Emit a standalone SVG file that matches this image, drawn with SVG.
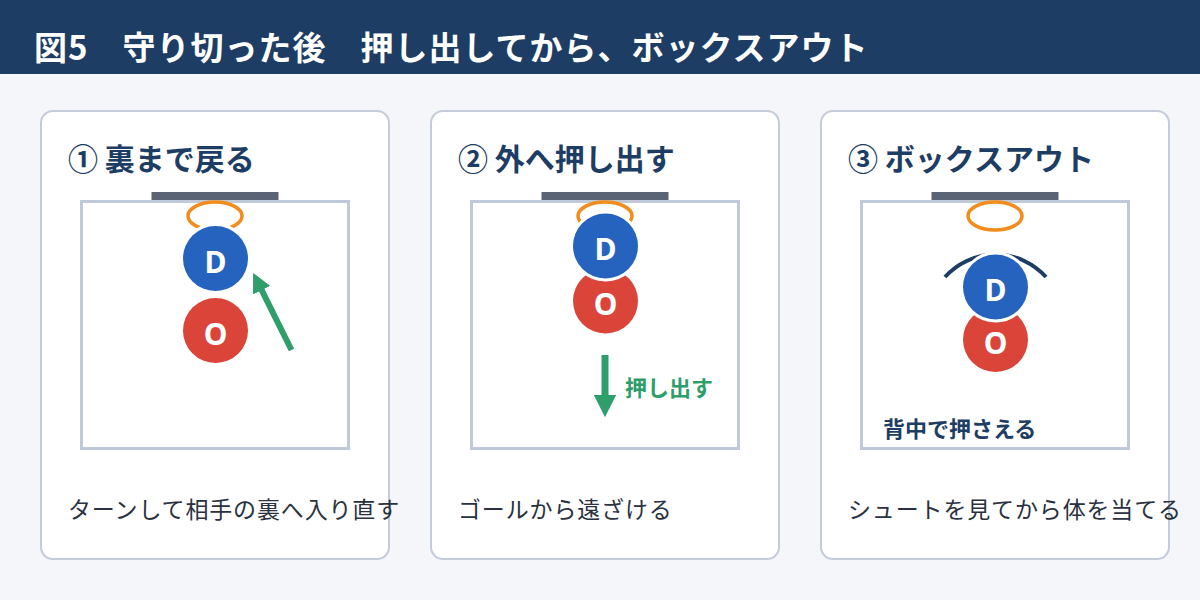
<svg xmlns="http://www.w3.org/2000/svg" width="1200" height="600" viewBox="0 0 1200 600">
<style>
.jp{font-family:"Noto Sans CJK JP","Noto Sans CJK SC",sans-serif}
.card{fill:#ffffff;stroke:#c4cbd9;stroke-width:2}
.court{fill:#ffffff;stroke:#bfc9d9;stroke-width:3}
.goal{fill:#5a6474}
.hoop{fill:none;stroke:#f28c1c;stroke-width:3.5}
.ptitle{font-size:30px;font-weight:700;fill:#1e3d64}
.cap{font-size:23px;font-weight:400;fill:#2a3140;letter-spacing:0.85px}
.dcirc{fill:#2563be;stroke:#ffffff;stroke-width:6;paint-order:stroke}
.ocirc{fill:#db4439;stroke:#ffffff;stroke-width:6;paint-order:stroke}
.lbl{font-family:"Noto Sans","Open Sans",sans-serif;font-size:30px;font-weight:700;fill:#ffffff;text-anchor:middle}
.arrow{stroke:#2e9e6b;fill:none;marker-end:url(#ah)}
</style>
<defs>
<marker id="ah" viewBox="0 0 10 10" markerWidth="3.2" markerHeight="3.2" refX="1" refY="5" orient="auto" markerUnits="strokeWidth">
<path d="M0,0 L10,5 L0,10 z" fill="#2e9e6b"/>
</marker>
</defs>
<rect x="0" y="0" width="1200" height="600" fill="#f4f6fa"/>
<g id="header">
<rect x="0" y="0" width="1200" height="74" fill="#1e3d64"/>
<text class="jp" x="34" y="60" font-size="33" font-weight="700" fill="#ffffff" letter-spacing="1">図5　守り切った後　押し出してから、ボックスアウト</text>
</g>
<g id="panel1">
<rect class="card" x="41" y="111" width="348" height="448" rx="12"/>
<text class="jp ptitle" x="68" y="170">① 裏まで戻る</text>
<rect class="goal" x="151.5" y="192" width="127" height="8"/>
<rect class="court" x="81.5" y="201.5" width="267" height="247"/>
<ellipse class="hoop" cx="215" cy="216" rx="27" ry="14"/>
<circle class="ocirc" cx="215.5" cy="330.5" r="32.5"/>
<text class="lbl" x="215.5" y="344.5">O</text>
<circle class="dcirc" cx="215.5" cy="258.5" r="32.5"/>
<text class="lbl" x="215.5" y="272.5">D</text>
<text class="jp cap" x="68" y="518">ターンして相手の裏へ入り直す</text>
</g>
<g id="panel2">
<rect class="card" x="431" y="111" width="348" height="448" rx="12"/>
<text class="jp ptitle" x="458" y="170">② 外へ押し出す</text>
<rect class="goal" x="541.5" y="192" width="127" height="8"/>
<rect class="court" x="471.5" y="201.5" width="267" height="247"/>
<ellipse class="hoop" cx="605" cy="216" rx="27" ry="14"/>
<circle class="ocirc" cx="605.5" cy="301" r="32.5"/>
<text class="lbl" x="605.5" y="315">O</text>
<circle class="dcirc" cx="605.5" cy="246" r="32.5"/>
<text class="lbl" x="605.5" y="260">D</text>
<text class="jp" x="625" y="396" font-size="22" font-weight="700" fill="#2e9e6b">押し出す</text>
<text class="jp cap" x="458" y="518">ゴールから遠ざける</text>
</g>
<g id="panel3">
<rect class="card" x="821" y="111" width="348" height="448" rx="12"/>
<text class="jp ptitle" x="848" y="170">③ ボックスアウト</text>
<rect class="goal" x="931.5" y="192" width="127" height="8"/>
<rect class="court" x="861.5" y="201.5" width="267" height="247"/>
<ellipse class="hoop" cx="995" cy="216" rx="27" ry="14"/>
<circle class="ocirc" cx="995.5" cy="339.5" r="32.5"/>
<text class="lbl" x="995.5" y="353.5">O</text>
<path d="M945,277 A68,68 0 0 1 1046,277" fill="none" stroke="#1e3d64" stroke-width="4"/>
<circle class="dcirc" cx="995.5" cy="287" r="32.5"/>
<text class="lbl" x="995.5" y="301">D</text>
<text class="jp" x="883" y="437" font-size="22" font-weight="700" fill="#1e3d64">背中で押さえる</text>
<text class="jp cap" x="848" y="518">シュートを見てから体を当てる</text>
</g>
<g id="connectors">
<line class="arrow" x1="291.5" y1="350" x2="260.8" y2="288.4" stroke-width="6"/>
<line class="arrow" x1="605" y1="355" x2="605" y2="397" stroke-width="7"/>
</g>
</svg>
